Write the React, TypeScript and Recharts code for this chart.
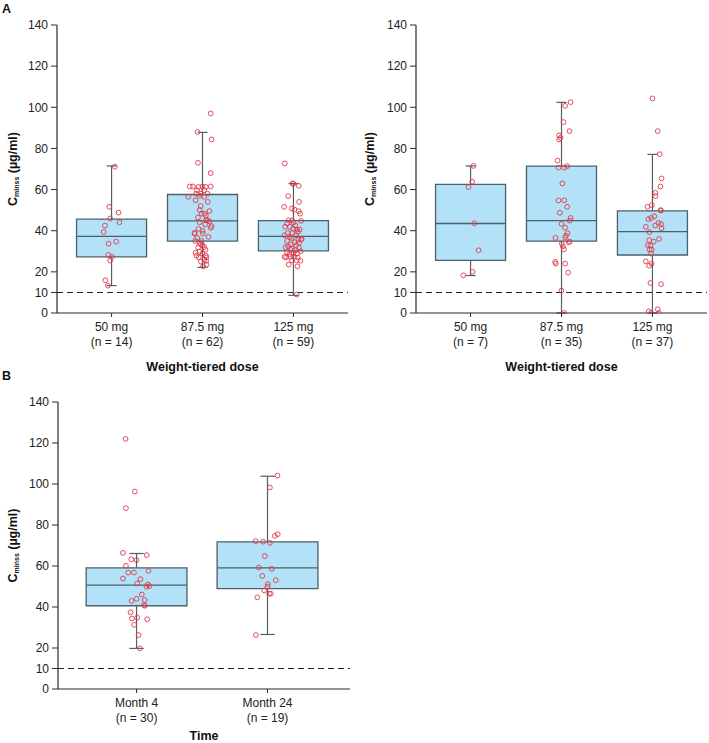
import React from 'react';
import { ComposedChart, XAxis, YAxis, Scatter, ReferenceArea, ReferenceLine } from 'recharts';

const FONT = '"Liberation Sans", Arial, Helvetica, sans-serif';

// ---------- labels ----------
const doseCategories = ['50 mg', '87.5 mg', '125 mg'];
const panelA1Counts = ['(n = 14)', '(n = 62)', '(n = 59)'];
const panelA2Counts = ['(n = 7)', '(n = 35)', '(n = 37)'];
const timeCategories = ['Month 4', 'Month 24'];
const timeCounts = ['(n = 30)', '(n = 19)'];
const yTicks = [0, 10, 20, 40, 60, 80, 100, 120, 140];
const threshold = 10;

// ---------- box stats: [whisker low, Q1, median, Q3, whisker high] ----------
const a1Boxes = [
  [13.3, 27.3, 37.2, 45.6, 71.5],
  [22.2, 34.9, 44.8, 57.6, 87.8],
  [8.6, 30.2, 37.2, 44.9, 62.9],
];
const a2Boxes = [
  [18.2, 25.6, 43.5, 62.5, 71.5],
  [0, 34.9, 44.9, 71.4, 102.4],
  [0, 28.2, 39.6, 49.6, 77.1],
];
const bBoxes = [
  [19.8, 40.6, 50.7, 59.1, 66.1],
  [26.6, 49.0, 59.1, 71.8, 103.8],
];

// ---------- individual values and horizontal jitter (category units) ----------
const a1Dose50Values = [71.1, 51.6, 48.8, 45.9, 44.1, 42.5, 39.4, 34.7, 33.7, 28.2, 27.3, 25.5, 15.9, 13.3];
const a1Dose50Jitter = [0.036, -0.026, 0.077, -0.015, 0.087, -0.073, -0.087, 0.051, -0.033, -0.036, 0.004, -0.015, -0.069, -0.04];

const a1Dose87Values = [
  97, 88, 84.4, 73, 68, 61.5, 61.5, 61.3, 61.5, 61.3, 61.5, 59.7, 59.7, 58, 58, 58, 56.5, 56.5, 54.8, 54,
  49.6, 48.3, 48.3, 47.4, 46.4, 45.1, 45.1, 44.5, 44.1, 42.2, 41.4, 40.9, 39.9, 39, 38.5, 38.6, 37, 35, 35, 34,
  33.3, 31.9, 32, 30.8, 29.8, 29.3, 27.9, 27.9, 27, 27, 25, 25.3, 22.7, 23.5, 36.5, 50, 43, 33, 26, 29, 57, 52,
];
const a1Dose87Jitter = [
  0.09, -0.055, 0.1, -0.05, 0.09, -0.14, -0.105, -0.045, 0, 0.036, 0.09, -0.06, 0.018, -0.07, -0.018, 0.055, -0.157, 0.018, -0.077, 0.058,
  0.077, -0.01, 0.022, 0.036, -0.05, 0.04, 0.058, 0.077, -0.033, 0.1, 0.09, -0.044, 0, -0.087, -0.087, 0.004, 0.066, -0.08, -0.01, -0.03,
  -0.018, -0.047, 0.018, 0.033, -0.033, -0.077, -0.066, 0.036, -0.04, 0.044, -0.018, 0.04, 0.007, 0.044, -0.058, -0.03, 0.03, 0, 0.02, 0, -0.03, -0.02,
];

const a1Dose125Values = [
  72.7, 63, 62.8, 61.8, 56.8, 54, 51.6, 50.8, 50.3, 49.5, 48.3, 44.8, 45.1, 45.1, 41.9, 41.9, 41, 40.6, 40.6, 38.9,
  38.9, 37.8, 37.8, 37, 35.7, 35.7, 35, 34.4, 33.4, 32, 31.3, 31.8, 30.7, 30.4, 28.6, 28.9, 27.3, 27.1, 27.3, 27.3,
  27, 25.6, 25.6, 25.4, 23.5, 22.7, 9, 43.5, 42.5, 39.5, 36.5, 34, 33, 32.5, 30, 29.5, 29, 44, 36,
];
const a1Dose125Jitter = [
  -0.095, -0.011, 0, 0.058, -0.058, 0.062, -0.102, -0.018, 0.011, 0.058, 0.073, 0.084, -0.051, -0.015, -0.091, -0.04, 0, 0.04, 0.069, -0.062,
  -0.015, -0.098, 0.029, -0.04, 0.055, 0.084, -0.069, 0.015, -0.029, -0.087, -0.018, 0.062, -0.033, 0.022, -0.044, 0.04, -0.098, -0.08, -0.036, 0.007,
  0.047, -0.018, 0.036, 0.077, -0.051, 0.044, 0.036, -0.07, 0.02, 0.05, -0.02, 0.06, 0.03, -0.06, 0.08, -0.07, 0, 0, 0.09,
];

const a2Dose50Values = [71.5, 63.8, 61.2, 43.6, 30.5, 20, 18.3];
const a2Dose50Jitter = [0.033, 0.018, -0.022, 0.04, 0.088, 0.022, -0.08];

const a2Dose87Values = [
  102.5, 100.7, 92.8, 88.4, 86.3, 85.2, 84.4, 74.1, 70.7, 70.7, 71.4, 63, 54.7, 54.8, 51.6, 48.7, 46.2, 44.9,
  43.3, 41.5, 38.8, 37.6, 36.7, 36.5, 34.7, 34.4, 33.7, 32.4, 31, 24.8, 24, 24, 19.6, 10.9, 0,
];
const a2Dose87Jitter = [
  0.1, 0.04, 0.022, 0.088, -0.026, -0.01, -0.026, -0.044, -0.033, 0.03, 0.062, 0.01, -0.033, 0.03, 0.062, -0.018, 0.1, 0.09,
  0, 0.04, 0.066, 0.05, 0.04, -0.066, 0.09, 0.08, 0.004, 0.015, 0.026, -0.07, -0.062, 0.04, 0.073, 0, 0.03,
];

const a2Dose125Values = [
  104.3, 88.4, 77.2, 65.4, 61.5, 58.4, 56.8, 52.4, 51.6, 50, 49.8, 46.2, 45.6, 43.8, 43.2, 42.5, 41.9, 41.2, 39.3,
  36, 35.4, 34.7, 32.8, 30.8, 30.8, 28.9, 25.1, 24, 23, 14.6, 14, 0.8, 1.8, 0, 0, 47, 33,
];
const a2Dose125Jitter = [
  0, 0.058, 0.08, 0.1, 0.088, 0.033, 0.033, -0.007, -0.055, 0.088, 0.095, -0.015, -0.044, 0.066, 0.095, 0.03, -0.073, 0.1, -0.033,
  0.073, -0.036, 0.015, -0.022, -0.03, -0.008, -0.015, -0.073, -0.01, -0.036, -0.022, 0.095, -0.04, 0.058, -0.015, 0.07, 0.02, -0.05,
];

const bMonth4Values = [
  122, 96.3, 88.2, 66.4, 65.3, 63.3, 62.9, 60.1, 57.6, 56.8, 56.8, 53.6, 53.9, 51.5, 51, 50.2, 49.9, 46.1, 43.4, 44,
  43, 40.9, 40.6, 37.4, 34.4, 34.8, 34, 31.3, 26.3, 19.8,
];
const bMonth4Jitter = [
  -0.084, -0.013, -0.081, -0.104, 0.078, -0.04, 0, -0.081, 0.091, -0.063, -0.02, 0.03, -0.104, 0.005, 0.086, 0.099, 0.076, 0.04, 0.063, 0,
  -0.038, 0.056, 0.063, -0.046, -0.035, 0.005, 0.081, -0.018, 0.015, 0.025,
];

const bMonth24Values = [104.1, 98.3, 75.5, 74.7, 72.1, 71.9, 71.3, 64.8, 59.3, 58.6, 55.2, 53.1, 51.2, 50, 48.1, 46.5, 46.5, 44.7, 26.3];
const bMonth24Jitter = [0.076, 0.018, 0.078, 0.056, -0.091, -0.033, 0.018, -0.02, -0.066, 0.033, -0.04, 0.063, 0.003, 0, -0.025, 0.013, 0.025, -0.078, -0.089];

// ---------- helpers ----------
type Group = { values: number[]; jitter: number[] };

function buildPoints(groups: Group[]) {
  return groups.flatMap((g, i) => g.values.map((v, j) => ({ x: i + g.jitter[j], y: v })));
}

const BOX_HALF = 0.385;
const CAP_HALF = 0.055;
const BOX_FILL = '#b2e1f8';
const BOX_STROKE = '#4c606b';
const WHISKER = '#555f66';
const POINT = '#e23a48';
const AXIS = '#2b2b2b';

const CatTick = (props: any) => {
  const { x, y, payload, labels, counts } = props;
  const i = Math.round(payload.value);
  return (
    <g transform={`translate(${x},${y})`}>
      <text textAnchor="middle" fontSize={12} fill="#222" fontFamily={FONT}>
        <tspan x={0} dy={12}>{labels[i]}</tspan>
        <tspan x={0} dy={15}>{counts[i]}</tspan>
      </text>
    </g>
  );
};

const YTitle = (props: any) => {
  const vb = props.viewBox || { x: 0, y: 25, width: 57, height: 288 };
  const cx = vb.x + 13;
  const cy = vb.y + vb.height / 2;
  return (
    <text
      x={cx}
      y={cy}
      transform={`rotate(-90 ${cx} ${cy})`}
      textAnchor="middle"
      dominantBaseline="central"
      fontWeight="bold"
      fontSize={12.5}
      fill="#111"
      fontFamily={FONT}
    >
      C
      <tspan fontSize={7} dy={3}>minss</tspan>
      <tspan dy={-3}> (µg/ml)</tspan>
    </text>
  );
};

const XTitle = (props: any) => {
  const vb = props.viewBox || { x: 57, y: 313, width: 291, height: 40 };
  return (
    <text
      x={vb.x + vb.width / 2}
      y={vb.y + props.dist}
      textAnchor="middle"
      dominantBaseline="central"
      fontWeight="bold"
      fontSize={12.5}
      fill="#111"
      fontFamily={FONT}
    >
      {props.title}
    </text>
  );
};

const Dot = (props: any) => {
  const { cx, cy } = props;
  return <circle cx={cx} cy={cy} r={2.4} fill="none" stroke={POINT} strokeWidth={0.9} />;
};

type PanelProps = {
  left: number;
  top: number;
  width: number;
  height: number;
  margin: { top: number; right: number; bottom: number; left: number };
  yAxisWidth: number;
  domain: [number, number];
  categories: string[];
  counts: string[];
  boxes: number[][];
  groups: Group[];
  xTitle: string;
  xTitleDist: number;
};

function BoxPanel(p: PanelProps) {
  const points = buildPoints(p.groups);
  const ticks = p.categories.map((_, i) => i);
  return (
    <div style={{ position: 'absolute', left: p.left, top: p.top }}>
      <ComposedChart width={p.width} height={p.height} margin={p.margin} style={{ fontFamily: FONT }}>
        <XAxis
          type="number"
          dataKey="x"
          domain={p.domain}
          ticks={ticks}
          interval={0}
          allowDataOverflow
          height={40}
          tickSize={4}
          axisLine={{ stroke: AXIS, strokeWidth: 1.2 }}
          tickLine={{ stroke: AXIS }}
          tick={<CatTick labels={p.categories} counts={p.counts} />}
          label={<XTitle title={p.xTitle} dist={p.xTitleDist} />}
        />
        <YAxis
          type="number"
          dataKey="y"
          domain={[0, 140]}
          ticks={yTicks}
          interval={0}
          allowDataOverflow
          width={p.yAxisWidth}
          tickSize={6}
          tickMargin={3}
          axisLine={{ stroke: AXIS, strokeWidth: 1.2 }}
          tickLine={{ stroke: AXIS }}
          tick={{ fontSize: 12, fill: '#222', fontFamily: FONT }}
          label={<YTitle />}
        />
        {p.boxes.map((b, i) => (
          <ReferenceLine
            key={`wl${i}`}
            segment={[{ x: i, y: b[0] }, { x: i, y: b[1] }]}
            stroke={WHISKER}
            strokeWidth={1.2}
          />
        ))}
        {p.boxes.map((b, i) => (
          <ReferenceLine
            key={`wh${i}`}
            segment={[{ x: i, y: b[3] }, { x: i, y: b[4] }]}
            stroke={WHISKER}
            strokeWidth={1.2}
          />
        ))}
        {p.boxes.map((b, i) => (
          <ReferenceLine
            key={`cl${i}`}
            segment={[{ x: i - CAP_HALF, y: b[0] }, { x: i + CAP_HALF, y: b[0] }]}
            stroke={WHISKER}
            strokeWidth={1.2}
          />
        ))}
        {p.boxes.map((b, i) => (
          <ReferenceLine
            key={`ch${i}`}
            segment={[{ x: i - CAP_HALF, y: b[4] }, { x: i + CAP_HALF, y: b[4] }]}
            stroke={WHISKER}
            strokeWidth={1.2}
          />
        ))}
        {p.boxes.map((b, i) => (
          <ReferenceArea
            key={`bx${i}`}
            x1={i - BOX_HALF}
            x2={i + BOX_HALF}
            y1={b[1]}
            y2={b[3]}
            fill={BOX_FILL}
            fillOpacity={1}
            stroke={BOX_STROKE}
            strokeWidth={1.3}
          />
        ))}
        {p.boxes.map((b, i) => (
          <ReferenceLine
            key={`md${i}`}
            segment={[{ x: i - BOX_HALF, y: b[2] }, { x: i + BOX_HALF, y: b[2] }]}
            stroke={BOX_STROKE}
            strokeWidth={1.3}
          />
        ))}
        <ReferenceLine y={threshold} stroke="#222" strokeWidth={1.1} strokeDasharray="6 4" />
        <Scatter data={points} dataKey="y" shape={<Dot />} isAnimationActive={false} />
      </ComposedChart>
    </div>
  );
}

const panelLetter: React.CSSProperties = {
  position: 'absolute',
  left: 2,
  fontFamily: FONT,
  fontWeight: 'bold',
  fontSize: 12.5,
  lineHeight: '13px',
  color: '#111',
};

export default function App() {
  return (
    <div style={{ position: 'absolute', left: 0, top: 0, width: 709, height: 743, background: '#fff', overflow: 'hidden' }}>
      <div style={{ ...panelLetter, top: 3 }}>A</div>
      <div style={{ ...panelLetter, top: 370 }}>B</div>
      <BoxPanel
        left={0}
        top={0}
        width={355}
        height={380}
        margin={{ top: 25, right: 7, bottom: 27, left: 0 }}
        yAxisWidth={57}
        domain={[-0.6, 2.6]}
        categories={doseCategories}
        counts={panelA1Counts}
        boxes={a1Boxes}
        groups={[
          { values: a1Dose50Values, jitter: a1Dose50Jitter },
          { values: a1Dose87Values, jitter: a1Dose87Jitter },
          { values: a1Dose125Values, jitter: a1Dose125Jitter },
        ]}
        xTitle="Weight-tiered dose"
        xTitleDist={54}
      />
      <BoxPanel
        left={357}
        top={0}
        width={352}
        height={380}
        margin={{ top: 25, right: 2, bottom: 27, left: 0 }}
        yAxisWidth={59}
        domain={[-0.6, 2.6]}
        categories={doseCategories}
        counts={panelA2Counts}
        boxes={a2Boxes}
        groups={[
          { values: a2Dose50Values, jitter: a2Dose50Jitter },
          { values: a2Dose87Values, jitter: a2Dose87Jitter },
          { values: a2Dose125Values, jitter: a2Dose125Jitter },
        ]}
        xTitle="Weight-tiered dose"
        xTitleDist={54}
      />
      <BoxPanel
        left={0}
        top={377}
        width={355}
        height={366}
        margin={{ top: 25, right: 5, bottom: 14, left: 0 }}
        yAxisWidth={58}
        domain={[-0.6, 1.63]}
        categories={timeCategories}
        counts={timeCounts}
        boxes={bBoxes}
        groups={[
          { values: bMonth4Values, jitter: bMonth4Jitter },
          { values: bMonth24Values, jitter: bMonth24Jitter },
        ]}
        xTitle="Time"
        xTitleDist={47}
      />
    </div>
  );
}
